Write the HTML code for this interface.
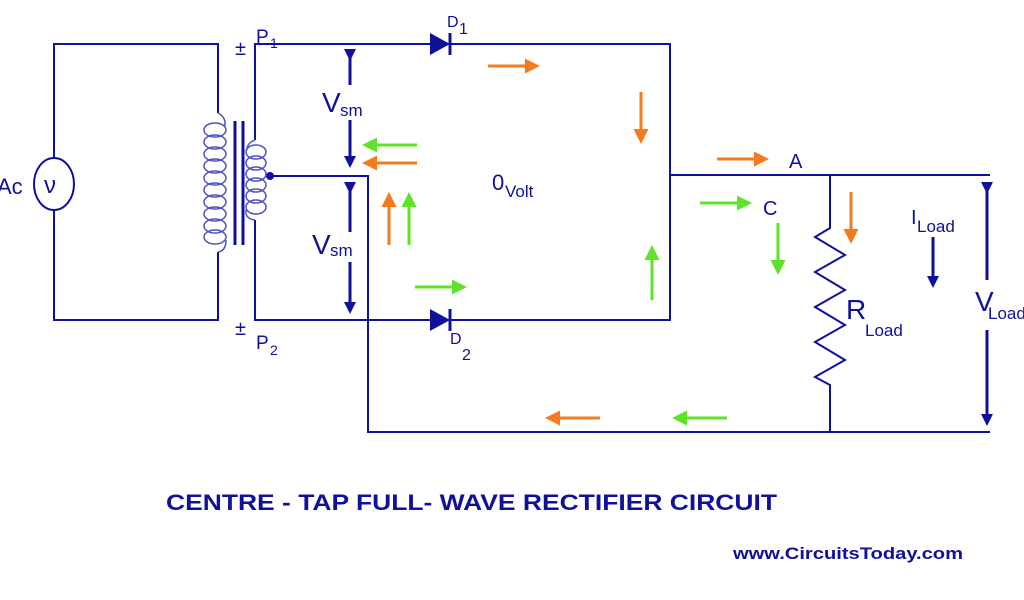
<!DOCTYPE html>
<html><head><style>
html,body{margin:0;padding:0;background:#fff;width:1024px;height:600px;overflow:hidden}
svg text{font-family:"Liberation Sans",Arial,sans-serif;fill:#10109a}
</style></head><body>
<svg width="1024" height="600" viewBox="0 0 1024 600" xmlns="http://www.w3.org/2000/svg">
<defs>
<marker id="mb" markerWidth="4" markerHeight="4" refX="2" refY="2" orient="auto" markerUnits="strokeWidth"><path d="M0,0 L4,2 L0,4 z" fill="#10109a"/></marker>
<marker id="mo" markerWidth="5" markerHeight="5" refX="1" refY="2.5" orient="auto" markerUnits="strokeWidth"><path d="M0,0 L5,2.5 L0,5 z" fill="#f57a1e"/></marker>
<marker id="mg" markerWidth="5" markerHeight="5" refX="1" refY="2.5" orient="auto" markerUnits="strokeWidth"><path d="M0,0 L5,2.5 L0,5 z" fill="#5ee32a"/></marker>
</defs>
<g fill="none" stroke="#10109a" stroke-width="2">
<polyline points="218,113 218,44 54,44 54,157"/>
<polyline points="54,211 54,320 218,320 218,252"/>
<ellipse cx="54" cy="184" rx="20" ry="26"/>
<polyline points="255,140 255,44 430,44"/>
<polyline points="450,44 670,44 670,320 450,320"/>
<polyline points="430,320 255,320 255,220"/>
<polyline points="270,176 368,176 368,432 990,432"/>
<polyline points="670,175 990,175"/>
<polyline points="830,175 830,228 815,237 845,255 815,272 845,290 815,307 845,325 815,342 845,360 815,377 830,385 830,432"/>
<line x1="235" y1="121" x2="235" y2="245" stroke-width="3"/>
<line x1="243" y1="121" x2="243" y2="245" stroke-width="3"/>
<line x1="450" y1="33" x2="450" y2="55" stroke-width="3"/>
<line x1="450" y1="309" x2="450" y2="331" stroke-width="3"/>
</g>
<path d="M430,33 L450,44 L430,55 z" fill="#10109a"/>
<path d="M430,309 L450,320 L430,331 z" fill="#10109a"/>
<circle cx="270" cy="176" r="4" fill="#10109a"/>
<g fill="none" stroke="#5050c0" stroke-width="1.5">
<path d="M218,113 q8,4 7,13"/>
<ellipse cx="215" cy="130" rx="11" ry="7"/><ellipse cx="215" cy="142" rx="11" ry="7"/><ellipse cx="215" cy="154" rx="11" ry="7"/><ellipse cx="215" cy="166" rx="11" ry="7"/><ellipse cx="215" cy="178" rx="11" ry="7"/><ellipse cx="215" cy="190" rx="11" ry="7"/><ellipse cx="215" cy="202" rx="11" ry="7"/><ellipse cx="215" cy="214" rx="11" ry="7"/><ellipse cx="215" cy="226" rx="11" ry="7"/><ellipse cx="215" cy="237" rx="11" ry="7"/>
<path d="M226,240 q0,11 -8,12"/>
<path d="M255,140 q-8,3 -8,10"/>
<ellipse cx="256" cy="152" rx="10" ry="7"/><ellipse cx="256" cy="163" rx="10" ry="7"/><ellipse cx="256" cy="174" rx="10" ry="7"/><ellipse cx="256" cy="185" rx="10" ry="7"/><ellipse cx="256" cy="196" rx="10" ry="7"/><ellipse cx="256" cy="207" rx="10" ry="7"/>
<path d="M246,210 q-1,9 9,10"/>
</g>
<g stroke="#10109a" stroke-width="3" fill="none">
<line x1="350" y1="55" x2="350" y2="85" marker-start="url(#mb)"/>
<line x1="350" y1="120" x2="350" y2="162" marker-end="url(#mb)"/>
<line x1="350" y1="188" x2="350" y2="232" marker-start="url(#mb)"/>
<line x1="350" y1="262" x2="350" y2="308" marker-end="url(#mb)"/>
<line x1="987" y1="188" x2="987" y2="280" marker-start="url(#mb)"/>
<line x1="987" y1="330" x2="987" y2="420" marker-end="url(#mb)"/>
<line x1="933" y1="237" x2="933" y2="282" marker-end="url(#mb)"/>
</g>
<g stroke="#f57a1e" stroke-width="3" fill="none">
<line x1="488" y1="66" x2="528" y2="66" marker-end="url(#mo)"/>
<line x1="641" y1="92" x2="641" y2="132" marker-end="url(#mo)"/>
<line x1="417" y1="163" x2="374" y2="163" marker-end="url(#mo)"/>
<line x1="389" y1="245" x2="389" y2="204" marker-end="url(#mo)"/>
<line x1="717" y1="159" x2="757" y2="159" marker-end="url(#mo)"/>
<line x1="851" y1="192" x2="851" y2="232" marker-end="url(#mo)"/>
<line x1="600" y1="418" x2="557" y2="418" marker-end="url(#mo)"/>
</g>
<g stroke="#5ee32a" stroke-width="3" fill="none">
<line x1="417" y1="145" x2="374" y2="145" marker-end="url(#mg)"/>
<line x1="409" y1="245" x2="409" y2="204" marker-end="url(#mg)"/>
<line x1="415" y1="287" x2="455" y2="287" marker-end="url(#mg)"/>
<line x1="652" y1="300" x2="652" y2="257" marker-end="url(#mg)"/>
<line x1="700" y1="203" x2="740" y2="203" marker-end="url(#mg)"/>
<line x1="778" y1="223" x2="778" y2="263" marker-end="url(#mg)"/>
<line x1="727" y1="418" x2="684" y2="418" marker-end="url(#mg)"/>
</g>
<text x="-3" y="194" font-size="22">Ac</text>
<text x="44" y="193" font-size="24" font-family="Liberation Serif">ν</text>
<text x="235" y="55" font-size="20">±</text>
<text x="235" y="335" font-size="20">±</text>
<text x="256" y="43" font-size="19">P</text><text x="270" y="48" font-size="14">1</text>
<text x="256" y="349" font-size="19">P</text><text x="270" y="355" font-size="14">2</text>
<text x="447" y="27" font-size="16">D</text><text x="459" y="34" font-size="16">1</text>
<text x="450" y="344" font-size="16">D</text><text x="462" y="360" font-size="16">2</text>
<text x="322" y="112" font-size="28">V</text><text x="340" y="116" font-size="17">sm</text>
<text x="312" y="254" font-size="28">V</text><text x="330" y="256" font-size="17">sm</text>
<text x="492" y="190" font-size="22">0</text><text x="505" y="197" font-size="17">Volt</text>
<text x="789" y="168" font-size="20">A</text>
<text x="763" y="215" font-size="20">C</text>
<text x="911" y="224" font-size="20">I</text><text x="917" y="232" font-size="17">Load</text>
<text x="846" y="319" font-size="28">R</text><text x="865" y="336" font-size="17">Load</text>
<text x="975" y="311" font-size="28">V</text><text x="988" y="319" font-size="17">Load</text>
<text x="166" y="510" font-size="22" font-weight="bold" textLength="611" lengthAdjust="spacingAndGlyphs">CENTRE - TAP FULL- WAVE RECTIFIER CIRCUIT</text>
<text x="733" y="559" font-size="17" font-weight="bold" textLength="230" lengthAdjust="spacingAndGlyphs">www.CircuitsToday.com</text>
</svg>
</body></html>
